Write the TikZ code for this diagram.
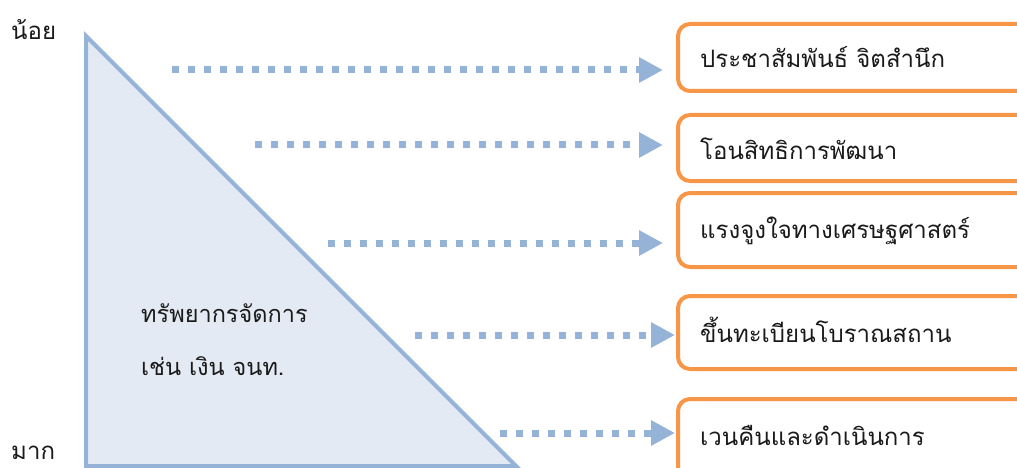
\documentclass[tikz,border=0pt]{standalone}
\usepackage{fontspec}
\newfontfamily\thai[Script=Thai]{Loma}
\usetikzlibrary{arrows.meta}
\definecolor{steel}{HTML}{95B3D7}
\definecolor{steelfill}{HTML}{E4EAF4}
\definecolor{accent}{HTML}{F79646}
\definecolor{ink}{HTML}{1A1A1A}

\tikzset{
  label text/.style={anchor=base west, inner sep=0pt, text=ink,
    font=\thai\fontsize{24}{28}\selectfont},
  itembox/.style={draw=accent, line width=4pt, rounded corners=12pt,
    fill=white, anchor=north west, minimum width=380pt, inner sep=0pt},
  flow/.style={draw=steel, line width=7pt, dash pattern=on 7pt off 9pt,
    -{Triangle[length=24pt, width=24pt]}},
}

\begin{document}
\begin{tikzpicture}[x=1pt, y=-1pt]
\useasboundingbox (0,0) rectangle (1017,468);
\clip (0,0) rectangle (1017,468);

% resource triangle
\draw[draw=steel, fill=steelfill, line width=4pt, line join=miter]
  (86,36) -- (86,466) -- (516,466) -- cycle;

% scale labels
\node[label text] (few) at (11,40) {น้อย};
\node[label text, text depth=0pt] (many) at (11,459) {มาก};

% text inside the triangle
\node[label text, font=\thai\fontsize{23.5}{28}\selectfont] (res1) at (141,322) {ทรัพยากรจัดการ};
\node[label text, font=\thai\fontsize{23.5}{28}\selectfont] (res2) at (141,375) {เช่น เงิน จนท.};

% measure boxes
\node[itembox, minimum height=67pt] (b1) at (676,22) {};
\node[itembox, minimum height=66pt] (b2) at (676,113) {};
\node[itembox, minimum height=74pt] (b3) at (676,191) {};
\node[itembox, minimum height=73pt] (b4) at (676,294) {};
\node[itembox, minimum height=80pt] (b5) at (676,397) {};

\node[label text] (t1) at (700,68) {ประชาสัมพันธ์ จิตสำนึก};
\node[label text] (t2) at (700,160) {โอนสิทธิการพัฒนา};
\node[label text] (t3) at (700,238) {แรงจูงใจทางเศรษฐศาสตร์};
\node[label text] (t4) at (700,342) {ขึ้นทะเบียนโบราณสถาน};
\node[label text] (t5) at (700,445) {เวนคืนและดำเนินการ};

% dotted arrows
\coordinate (s1) at (172,70);
\coordinate (s2) at (255,145);
\coordinate (s3) at (328,243);
\coordinate (s4) at (415,335);
\coordinate (s5) at (500,433);

\draw[flow, shorten >=13pt] (s1) -- (s1 -| b1.west);
\draw[flow, shorten >=13pt] (s2) -- (s2 -| b2.west);
\draw[flow, shorten >=13pt] (s3) -- (s3 -| b3.west);
\draw[flow, shorten >=1pt] (s4) -- (s4 -| b4.west);
\draw[flow, shorten >=1pt] (s5) -- (s5 -| b5.west);
\end{tikzpicture}
\end{document}
